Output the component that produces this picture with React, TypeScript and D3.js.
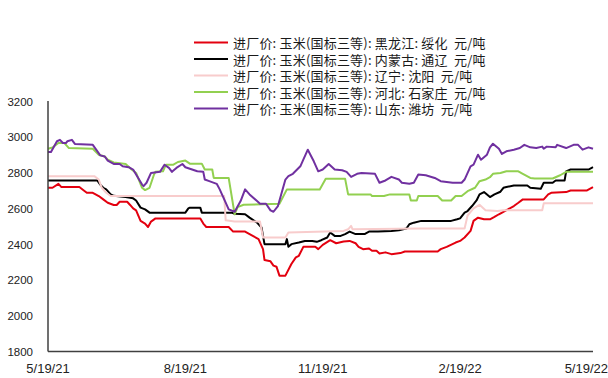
import React from "react";
import * as d3 from "d3";

// Day offsets are counted from 2021-05-19
const startDate = "2021-05-19";
const endDate = "2022-05-19";

const seriesNames = [
  "进厂价: 玉米(国标三等): 黑龙江: 绥化  元/吨",
  "进厂价: 玉米(国标三等): 内蒙古: 通辽  元/吨",
  "进厂价: 玉米(国标三等): 辽宁: 沈阳  元/吨",
  "进厂价: 玉米(国标三等): 河北: 石家庄  元/吨",
  "进厂价: 玉米(国标三等): 山东: 潍坊  元/吨",
];
const seriesColors = ["#e3000f", "#000000", "#f8cccc", "#92d050", "#7030a0"];

const heilongjiang: [number, number][] = [[0,2715],[3,2715],[7,2737],[9,2719],[21,2719],[24,2700],[26,2687],[30,2687],[34,2669],[37,2650],[40,2631],[44,2619],[46,2619],[48,2637],[53,2637],[55,2619],[57,2600],[59,2589],[62,2530],[65,2515],[67,2496],[69,2526],[72,2544],[102,2544],[104,2515],[106,2496],[121,2496],[124,2470],[132,2470],[135,2456],[141,2428],[144,2372],[145,2311],[149,2304],[151,2280],[153,2274],[155,2224],[159,2224],[163,2289],[166,2326],[168,2335],[171,2385],[179,2385],[181,2372],[184,2396],[189,2422],[193,2405],[198,2415],[202,2418],[206,2405],[208,2385],[211,2372],[215,2376],[217,2363],[220,2363],[222,2348],[226,2354],[230,2344],[236,2350],[239,2359],[261,2359],[263,2372],[267,2385],[273,2409],[276,2418],[279,2437],[283,2474],[285,2530],[288,2548],[292,2539],[296,2539],[299,2552],[302,2567],[305,2581],[308,2594],[312,2613],[315,2631],[318,2650],[332,2650],[335,2678],[337,2687],[347,2691],[350,2700],[361,2700],[365,2719]];

const neimenggu: [number, number][] = [[0,2756],[33,2756],[35,2733],[37,2715],[39,2706],[42,2678],[44,2670],[52,2663],[57,2656],[59,2644],[62,2604],[65,2594],[68,2576],[92,2576],[94,2600],[95,2604],[102,2604],[103,2576],[123,2576],[125,2570],[132,2567],[135,2548],[140,2520],[143,2493],[145,2400],[159,2400],[160,2428],[161,2385],[163,2400],[168,2409],[172,2418],[177,2418],[180,2413],[183,2422],[187,2437],[189,2465],[192,2446],[196,2446],[199,2456],[202,2470],[206,2456],[212,2456],[215,2470],[221,2470],[230,2474],[235,2478],[240,2487],[242,2511],[245,2520],[250,2530],[270,2530],[274,2539],[276,2544],[279,2576],[281,2585],[284,2613],[287,2644],[289,2678],[292,2691],[296,2663],[299,2678],[303,2693],[305,2715],[307,2719],[312,2728],[321,2728],[323,2715],[330,2709],[332,2743],[338,2743],[340,2756],[346,2756],[347,2807],[350,2817],[362,2817],[365,2830]];

const liaoning: [number, number][] = [[0,2780],[31,2780],[34,2761],[36,2715],[39,2687],[42,2669],[118,2669],[119,2533],[125,2526],[142,2526],[144,2437],[159,2437],[161,2465],[198,2474],[201,2483],[203,2502],[204,2483],[249,2487],[279,2487],[281,2560],[285,2600],[289,2620],[293,2590],[301,2585],[305,2589],[331,2589],[332,2628],[365,2628]];

const hebei: [number, number][] = [[0,2933],[3,2940],[7,2965],[11,2965],[14,2937],[30,2933],[34,2900],[38,2890],[40,2872],[44,2857],[52,2848],[56,2817],[59,2798],[63,2715],[65,2702],[68,2715],[71,2789],[72,2804],[77,2807],[79,2844],[84,2844],[87,2859],[92,2867],[95,2850],[103,2850],[105,2817],[110,2817],[111,2770],[121,2770],[125,2567],[127,2607],[131,2620],[155,2626],[160,2706],[182,2706],[186,2765],[199,2765],[201,2678],[216,2678],[217,2669],[225,2669],[229,2678],[242,2678],[243,2644],[247,2644],[248,2669],[261,2669],[264,2644],[270,2644],[273,2669],[277,2669],[281,2696],[286,2715],[289,2752],[293,2761],[296,2774],[298,2793],[303,2798],[307,2807],[315,2807],[318,2793],[323,2770],[326,2767],[338,2767],[343,2785],[347,2804],[365,2804]];

const shandong: [number, number][] = [[0,2915],[2,2915],[6,2975],[8,2983],[10,2965],[12,2965],[13,2975],[16,2983],[18,2960],[30,2955],[35,2896],[38,2890],[40,2867],[44,2848],[48,2848],[50,2835],[54,2830],[57,2817],[59,2789],[63,2733],[64,2724],[66,2743],[69,2798],[75,2804],[78,2844],[81,2826],[83,2804],[86,2826],[90,2848],[92,2830],[100,2807],[104,2804],[105,2761],[108,2752],[113,2737],[115,2706],[119,2632],[121,2594],[125,2581],[129,2641],[132,2706],[135,2678],[140,2641],[142,2626],[146,2626],[149,2589],[151,2581],[154,2613],[159,2761],[161,2780],[164,2793],[169,2835],[171,2872],[174,2928],[178,2863],[181,2807],[184,2817],[188,2848],[192,2817],[197,2813],[200,2804],[203,2776],[207,2793],[210,2798],[219,2793],[222,2743],[226,2756],[230,2776],[235,2761],[237,2743],[242,2737],[245,2743],[248,2789],[253,2785],[259,2770],[263,2752],[271,2743],[277,2743],[279,2761],[283,2835],[285,2844],[288,2900],[290,2872],[294,2900],[296,2941],[298,2961],[302,2933],[304,2904],[307,2919],[312,2928],[316,2937],[319,2955],[323,2941],[327,2937],[331,2945],[332,2933],[334,2945],[340,2941],[341,2955],[347,2937],[352,2955],[355,2955],[358,2928],[362,2941],[365,2933]];

const allSeries = [heilongjiang, neimenggu, liaoning, hebei, shandong];
const yTicks = [1800, 2000, 2200, 2400, 2600, 2800, 3000, 3200];
const xTickDates = ["2021-05-19", "2021-08-19", "2021-11-19", "2022-02-19", "2022-05-19"];

const W = 608, H = 378;
const M = { left: 48, right: 15, top: 101, bottom: 26.5 };

export default function App() {
  const parse = d3.timeParse("%Y-%m-%d");
  const t0 = parse(startDate)!;
  const t1 = parse(endDate)!;
  const x = d3.scaleTime().domain([t0, t1]).range([M.left, W - M.right]);
  const y = d3.scaleLinear().domain([1800, 3200]).range([H - M.bottom, M.top]);
  const fmt = d3.timeFormat("%-m/%-d/%y");
  const line = d3
    .line<[number, number]>()
    .x((d) => x(d3.timeDay.offset(t0, d[0])))
    .y((d) => y(d[1]));
  const drawOrder = [0, 1, 2, 3, 4];
  const font = "'Liberation Sans', Arial, sans-serif";
  const cjk = "'Noto Sans CJK SC', 'Noto Sans', sans-serif";

  return (
    <svg
      width={W}
      height={H}
      style={{ position: "absolute", left: 0, top: 0, background: "#fff" }}
    >
      {/* legend */}
      {seriesNames.map((n, i) => {
        const ly = 42.5 + i * 16.5;
        return (
          <g key={n}>
            <line x1={194} x2={228} y1={ly} y2={ly} stroke={seriesColors[i]} strokeWidth={2} />
            <text
              x={233}
              y={ly}
              dominantBaseline="central"
              fontFamily={cjk}
              fontSize={13}
              letterSpacing={0.2}
              fill="#1a1a1a"
              style={{ whiteSpace: "pre" }}
            >
              {n}
            </text>
          </g>
        );
      })}
      {/* y labels */}
      {yTicks.map((v) => (
        <text key={v} x={33} y={y(v) + 0.5} textAnchor="end" dominantBaseline="central" fontFamily={font} fontSize={11.5} fill="#222">
          {v}
        </text>
      ))}
      {/* x labels */}
      {xTickDates.map((s, i) => {
        const d = parse(s)!;
        const last = i === xTickDates.length - 1;
        return (
          <text
            key={s}
            x={last ? W : x(d)}
            y={372.5}
            textAnchor={last ? "end" : "middle"}
            fontFamily={font}
            fontSize={13}
            fill="#222"
          >
            {fmt(d)}
          </text>
        );
      })}
      {/* series */}
      {drawOrder.map((i) => (
        <path
          key={i}
          d={line(allSeries[i]) || ""}
          fill="none"
          stroke={seriesColors[i]}
          strokeWidth={2}
          strokeLinejoin="round"
        />
      ))}
      {/* axes */}
      <line x1={M.left} x2={M.left} y1={M.top} y2={H - M.bottom} stroke="#404040" strokeWidth={1.5} />
      <line x1={M.left} x2={W - M.right} y1={H - M.bottom} y2={H - M.bottom} stroke="#404040" strokeWidth={1.5} />
    </svg>
  );
}
